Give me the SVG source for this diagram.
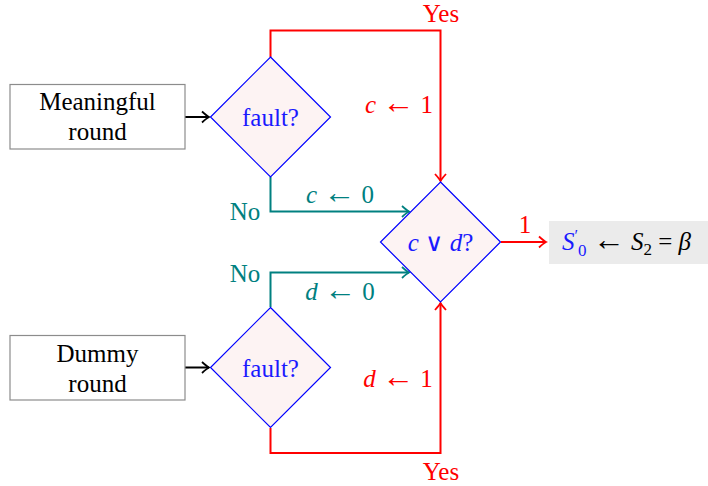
<svg xmlns="http://www.w3.org/2000/svg" width="708" height="486" viewBox="0 0 708 486" font-family="Liberation Serif, DejaVu Serif, serif">
<style>
text{font-size:25px;text-anchor:middle}
.it{font-style:italic}
.ar{font-size:32px}
.box{fill:#fff;stroke:#8c8c8c;stroke-width:1.2}
.dia{fill:#fdf3f3;stroke:#0000ff;stroke-width:1.2}
.blue{fill:#1a1aff}
.red{fill:#ff0000}
.teal{fill:#008080}
.blk{fill:#000}
.lr{fill:none;stroke:#ff0000;stroke-width:2}
.lt{fill:none;stroke:#008080;stroke-width:2}
.lk{fill:none;stroke:#000;stroke-width:2}
</style>
<defs>
<marker id="ar" markerUnits="userSpaceOnUse" viewBox="-9 -7 11 14" markerWidth="11" markerHeight="14" refX="0" refY="0" orient="auto"><path d="M-7,-5.5 Q-2,-1 0,0 Q-2,1 -7,5.5" fill="none" stroke="#ff0000" stroke-width="1.8"/></marker>
<marker id="at" markerUnits="userSpaceOnUse" viewBox="-9 -7 11 14" markerWidth="11" markerHeight="14" refX="0" refY="0" orient="auto"><path d="M-7,-5.5 Q-2,-1 0,0 Q-2,1 -7,5.5" fill="none" stroke="#008080" stroke-width="1.8"/></marker>
<marker id="ak" markerUnits="userSpaceOnUse" viewBox="-9 -7 11 14" markerWidth="11" markerHeight="14" refX="0" refY="0" orient="auto"><path d="M-7,-5.5 Q-2,-1 0,0 Q-2,1 -7,5.5" fill="none" stroke="#000" stroke-width="1.8"/></marker>
</defs>
<g id="connectors">
<path class="lk" d="M185,117 H209" marker-end="url(#ak)"/>
<path class="lk" d="M185,367.5 H209" marker-end="url(#ak)"/>
<path class="lr" d="M270.5,57 V30.5 H440.5 V181" marker-end="url(#ar)"/>
<path class="lr" d="M270.5,428 V453 H440.5 V303" marker-end="url(#ar)"/>
<path class="lt" d="M270.5,177 V211.5 H409" marker-end="url(#at)"/>
<path class="lt" d="M270.5,307 V272.5 H409" marker-end="url(#at)"/>
<path class="lr" d="M501,242 H546" marker-end="url(#ar)"/>
<text class="red" x="441" y="22">Yes</text>
<text class="red" x="441" y="480">Yes</text>
<text class="red" x="399" y="113"><tspan class="it">c</tspan> <tspan class="ar">←</tspan> 1</text>
<text class="red" x="398" y="387"><tspan class="it">d</tspan> <tspan class="ar">←</tspan> 1</text>
<text class="teal" x="340" y="203"><tspan class="it">c</tspan> <tspan class="ar">←</tspan> 0</text>
<text class="teal" x="340" y="300"><tspan class="it">d</tspan> <tspan class="ar">←</tspan> 0</text>
<text class="teal" x="245" y="220">No</text>
<text class="teal" x="245" y="282">No</text>
<text class="red" x="525" y="233">1</text>
</g>
<g id="meaningful">
<rect class="box" x="10" y="84.5" width="175" height="64.5"/>
<text class="blk" x="97.5" y="110">Meaningful</text>
<text class="blk" x="97.5" y="140">round</text>
</g>
<g id="fault1">
<path class="dia" d="M270.5,57 L330.5,117 L270.5,177 L210.5,117 Z"/>
<text class="blue" x="270.5" y="126">fault?</text>
</g>
<g id="dummy">
<rect class="box" x="10" y="335.5" width="175" height="64.5"/>
<text class="blk" x="97.5" y="362">Dummy</text>
<text class="blk" x="97.5" y="392">round</text>
</g>
<g id="fault2">
<path class="dia" d="M270.5,307.5 L330.5,367.5 L270.5,427.5 L210.5,367.5 Z"/>
<text class="blue" x="270.5" y="377">fault?</text>
</g>
<g id="cord">
<path class="dia" d="M440.5,182 L500.5,242 L440.5,302 L380.5,242 Z"/>
<text class="blue" x="440.5" y="251"><tspan class="it">c</tspan> ∨ <tspan class="it">d</tspan>?</text>
</g>
<g id="output">
<rect x="549" y="221" width="159" height="43" fill="#ebebeb"/>
<text class="blk" x="562" y="250" style="text-anchor:start"><tspan class="blue it">S</tspan><tspan class="blue" dy="-9" style="font-size:16px">′</tspan><tspan class="blue" dy="15" style="font-size:17px">0</tspan><tspan dy="-6"> </tspan><tspan class="ar">←</tspan> <tspan class="it">S</tspan><tspan dy="5" style="font-size:17px">2</tspan><tspan dy="-5"> = </tspan><tspan class="it">β</tspan></text>
</g>
</svg>
